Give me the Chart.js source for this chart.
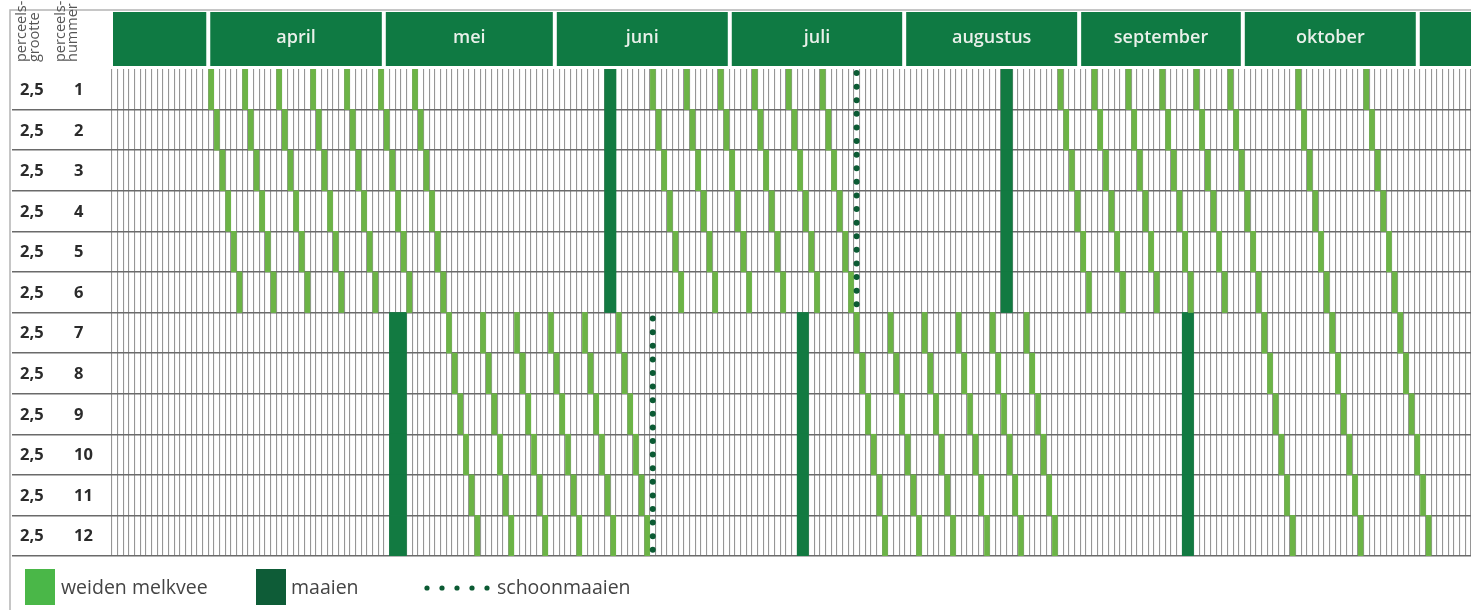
<!DOCTYPE html>
<html>
<head>
<meta charset="utf-8">
<title>Graasschema</title>
<script src="https://cdn.jsdelivr.net/npm/chart.js@4.4.0/dist/chart.umd.min.js"></script>
<style>
  html, body { margin: 0; padding: 0; background: #fff; }
  #wrap { width: 1471px; height: 610px; position: relative; }
</style>
</head>
<body>
<div id="wrap"><canvas id="grazingChart"></canvas></div>
<script>
/* percelen */
const plots = ['1', '2', '3', '4', '5', '6', '7', '8', '9', '10', '11', '12'];
const plotSizes = ['2,5', '2,5', '2,5', '2,5', '2,5', '2,5', '2,5', '2,5', '2,5', '2,5', '2,5', '2,5'];

/* kopregel: maanden, begin in dagkolommen */
const months = ['', 'april', 'mei', 'juni', 'juli', 'augustus', 'september', 'oktober', ''];
const monthStarts = [0, 17, 48, 78.2, 109.1, 139.9, 170.8, 199.7, 230.6];
const lastColumn = 240;

/* weiden melkvee: dagkolom per perceel */
const graze1 = [17, 23, 29, 35, 41, 47, 53, 95, 101, 107, 113, 119, 125, 167, 173, 179, 185, 191, 197, 209, 221];
const graze2 = [18, 24, 30, 36, 42, 48, 54, 96, 102, 108, 114, 120, 126, 168, 174, 180, 186, 192, 198, 210, 222];
const graze3 = [19, 25, 31, 37, 43, 49, 55, 97, 103, 109, 115, 121, 127, 169, 175, 181, 187, 193, 199, 211, 223];
const graze4 = [20, 26, 32, 38, 44, 50, 56, 98, 104, 110, 116, 122, 128, 170, 176, 182, 188, 194, 200, 212, 224];
const graze5 = [21, 27, 33, 39, 45, 51, 57, 99, 105, 111, 117, 123, 129, 171, 177, 183, 189, 195, 201, 213, 225];
const graze6 = [22, 28, 34, 40, 46, 52, 58, 100, 106, 112, 118, 124, 130, 172, 178, 184, 190, 196, 202, 214, 226];
const graze7 = [59, 65, 71, 77, 83, 89, 131, 137, 143, 149, 155, 161, 203, 215, 227];
const graze8 = [60, 66, 72, 78, 84, 90, 132, 138, 144, 150, 156, 162, 204, 216, 228];
const graze9 = [61, 67, 73, 79, 85, 91, 133, 139, 145, 151, 157, 163, 205, 217, 229];
const graze10 = [62, 68, 74, 80, 86, 92, 134, 140, 146, 152, 158, 164, 206, 218, 230];
const graze11 = [63, 69, 75, 81, 87, 93, 135, 141, 147, 153, 159, 165, 207, 219, 231];
const graze12 = [64, 70, 76, 82, 88, 94, 136, 142, 148, 154, 160, 166, 208, 220, 232];

/* maaien: [van, tot] in dagkolommen */
const mowPlots1to6 = [[87, 89], [157, 159]];
const mowPlots7to12 = [[49, 52], [121, 123], [189, 191]];

/* schoonmaaien: dagkolom */
const cleanCutPlots1to6 = 131;
const cleanCutPlots7to12 = 95;

const LIGHT = '#6cb446';
const DARK = '#127a41';
const DOTS = '#0b5a33';
const HEADER = '#0f7a43';
const FONT = "'Open Sans', 'DejaVu Sans', sans-serif";

// bars opbouwen
const grazeRows = [graze1, graze2, graze3, graze4, graze5, graze6, graze7, graze8, graze9, graze10, graze11, graze12];
const grazeData = [];
grazeRows.forEach((days, i) => {
  days.forEach(d => grazeData.push({ x: [d + 0.08, d + 0.95], y: plots[i] }));
});

const mowData = [];
plots.forEach((p, i) => {
  const ranges = i < 6 ? mowPlots1to6 : mowPlots7to12;
  ranges.forEach(r => mowData.push({ x: [r[0], r[1]], y: p }));
});

// kopregel, linkerkolom en legenda
const decorations = {
  id: 'decorations',
  afterDraw(chart) {
    const ctx = chart.ctx;
    const x = chart.scales.x;
    const y = chart.scales.y;
    const area = chart.chartArea;
    ctx.save();

    // kader
    ctx.strokeStyle = '#b4b4b4';
    ctx.lineWidth = 1.5;
    ctx.beginPath();
    ctx.moveTo(10, 610);
    ctx.lineTo(10, 10);
    ctx.lineTo(1471, 10);
    ctx.stroke();

    // maanden
    for (let i = 0; i < months.length; i++) {
      const x0 = x.getPixelForValue(monthStarts[i]) + (i === 0 ? 1 : 2);
      const x1 = i + 1 < months.length ? x.getPixelForValue(monthStarts[i + 1]) - 2 : area.right + 2;
      ctx.fillStyle = HEADER;
      ctx.fillRect(x0, 12, x1 - x0, 54);
      if (months[i]) {
        ctx.fillStyle = '#e9f0ea';
        ctx.font = '600 18px ' + FONT;
        ctx.textAlign = 'center';
        ctx.textBaseline = 'middle';
        ctx.fillText(months[i], (x0 + x1) / 2, 38);
      }
    }

    // kolomkoppen links (gedraaid)
    ctx.fillStyle = '#555';
    ctx.font = '14.5px ' + FONT;
    ctx.textAlign = 'left';
    ctx.textBaseline = 'middle';
    [['perceels-', 22], ['grootte', 35], ['perceels-', 61], ['nummer', 73]].forEach(([t, cx]) => {
      ctx.save();
      ctx.translate(cx, 62);
      ctx.rotate(-Math.PI / 2);
      ctx.fillText(t, 0, 0);
      ctx.restore();
    });

    // rijlabels
    ctx.fillStyle = '#2b2b2b';
    ctx.font = 'bold 16.5px ' + FONT;
    ctx.textBaseline = 'middle';
    plots.forEach((p, i) => {
      const cy = y.getPixelForValue(i) + 1;
      ctx.textAlign = 'left';
      ctx.fillText(plotSizes[i], 20, cy);
      ctx.fillText(p, 74, cy);
    });

    // legenda
    ctx.font = '19.5px ' + FONT;
    ctx.fillStyle = '#4ab748';
    ctx.fillRect(25, 569, 30, 36);
    ctx.fillStyle = '#0e5c37';
    ctx.fillRect(256, 569, 30, 36);
    ctx.fillStyle = DOTS;
    for (let k = 0; k < 5; k++) {
      ctx.beginPath();
      ctx.arc(427 + k * 15, 588, 2.6, 0, Math.PI * 2);
      ctx.fill();
    }
    ctx.fillStyle = '#444';
    ctx.textAlign = 'left';
    ctx.textBaseline = 'middle';
    ctx.fillText('weiden melkvee', 61, 588);
    ctx.fillText('maaien', 291, 588);
    ctx.fillText('schoonmaaien', 497, 588);

    ctx.restore();
  }
};

const rowLineColor = c => (c.index === 0 ? 'rgba(0,0,0,0)' : '#6a6a6a');

const dotLine = (col, fromRow, toRow) => ({
  type: 'line',
  data: [{ x: col + 0.5, y: fromRow }, { x: col + 0.5, y: toRow }],
  xAxisID: 'x',
  yAxisID: 'y2',
  borderColor: DOTS,
  borderWidth: 6,
  borderDash: [0, 13.6],
  borderCapStyle: 'round',
  pointRadius: 0,
  fill: false
});

const config = {
  type: 'bar',
  data: {
    labels: plots,
    datasets: [
      Object.assign({ label: 'schoonmaaien 1-6' }, dotLine(cleanCutPlots1to6, 0.1, 6)),
      Object.assign({ label: 'schoonmaaien 7-12' }, dotLine(cleanCutPlots7to12, 6.15, 12)),
      {
        label: 'weiden melkvee',
        data: grazeData,
        backgroundColor: LIGHT,
        borderWidth: 0,
        grouped: false,
        barPercentage: 1,
        categoryPercentage: 1
      },
      {
        label: 'maaien',
        data: mowData,
        backgroundColor: DARK,
        borderWidth: 0,
        grouped: false,
        barPercentage: 1,
        categoryPercentage: 1
      }
    ]
  },
  options: {
    indexAxis: 'y',
    responsive: true,
    maintainAspectRatio: false,
    animation: false,
    layout: { padding: { left: 12, top: 69, right: 0, bottom: 54 } },
    plugins: { legend: { display: false }, tooltip: { enabled: false } },
    scales: {
      x: {
        type: 'linear',
        min: 0,
        max: lastColumn,
        ticks: { display: false, stepSize: 1, autoSkip: false },
        grid: { color: '#969696', lineWidth: 1.1, drawTicks: false },
        border: { display: false }
      },
      y: {
        type: 'category',
        offset: true,
        ticks: { display: false },
        grid: { offset: true, color: rowLineColor, tickColor: rowLineColor, lineWidth: 1.4, drawTicks: true, tickLength: 100 },
        border: { display: false }
      },
      y2: {
        type: 'linear',
        min: 0,
        max: 12,
        offset: false,
        reverse: true,
        display: false
      }
    }
  },
  plugins: [decorations]
};

const grazingChart = new Chart(document.getElementById('grazingChart'), config);
</script>
</body>
</html>
